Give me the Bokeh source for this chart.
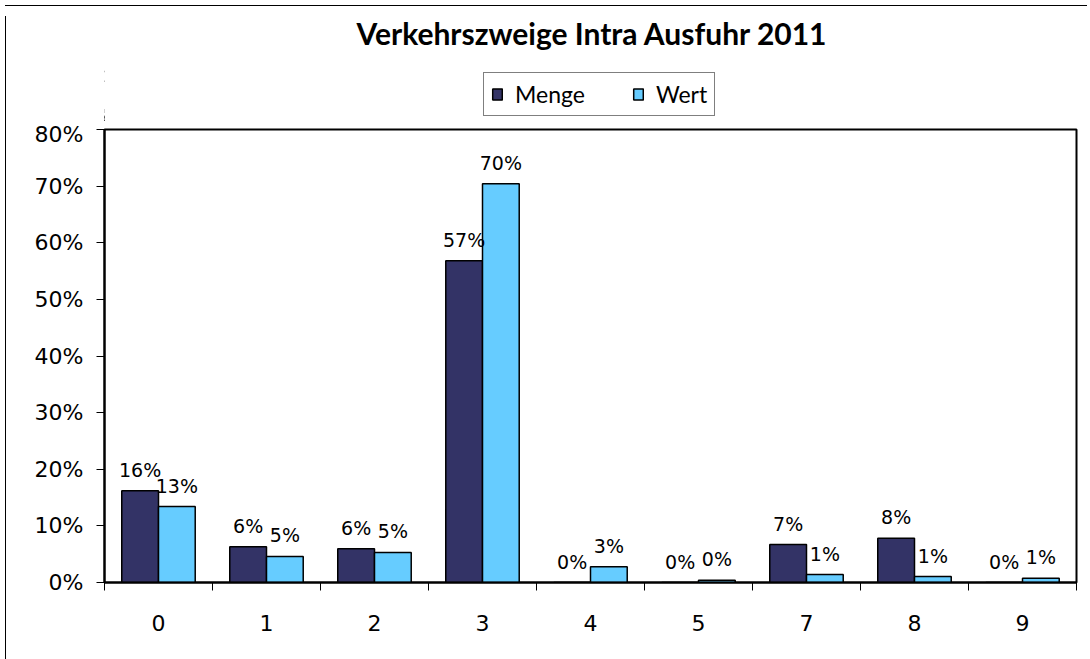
from bokeh.plotting import figure
from bokeh.models import (ColumnDataSource, FixedTicker, NumeralTickFormatter,
                          Legend, LegendItem, Range1d, Div)
from bokeh.layouts import column, row
from bokeh.embed import file_html
from bokeh.resources import INLINE

categories = ["0", "1", "2", "3", "4", "5", "7", "8", "9"]
menge = [16.2, 6.3, 5.95, 56.8, 0.0, 0.0, 6.7, 7.8, 0.0]
wert = [13.4, 4.6, 5.3, 70.4, 2.8, 0.4, 1.4, 1.05, 0.76]
y_ticks = [0, 10, 20, 30, 40, 50, 60, 70, 80]
series_names = ["Menge", "Wert"]
title_text = "Verkehrszweige Intra Ausfuhr 2011"

MENGE_COLOR = "#333366"
WERT_COLOR = "#66CCFF"

n = len(categories)
centers = [i + 0.5 for i in range(n)]
dodge = 0.17
bw = 0.34

src_m = ColumnDataSource(dict(
    x=[c - dodge for c in centers], top=[v / 100 for v in menge],
    lab=[f"{int(v + 0.5)}%" for v in menge]))
src_w = ColumnDataSource(dict(
    x=[c + dodge for c in centers], top=[v / 100 for v in wert],
    lab=[f"{int(v + 0.5)}%" for v in wert]))

# ---------- header: title + legend ----------
hdr = figure(width=1081, height=110, output_backend="svg", toolbar_location=None,
             x_range=Range1d(100, 101), y_range=Range1d(0, 1),
             x_axis_type=None, y_axis_type=None,
             min_border_left=93, min_border_right=16, min_border_top=39,
             min_border_bottom=0)
hdr.outline_line_color = None
hdr.background_fill_color = "white"
hdr.border_fill_color = "white"
hdr.title.text = title_text
hdr.title.align = "left"
hdr.title.text_font = "Lato"
hdr.title.text_font_style = "bold"
hdr.title.text_font_size = "30px"
hdr.title.text_color = "#000000"
hdr.title.offset = 252
hdr.title.standoff = 0

# legend swatch renderers: same series, zero height and outside the header's x range
lm = hdr.vbar(x="x", top="top", bottom="top", width=bw, source=src_m,
              fill_color=MENGE_COLOR, line_color="#000000", line_width=1.5)
lw = hdr.vbar(x="x", top="top", bottom="top", width=bw, source=src_w,
              fill_color=WERT_COLOR, line_color="#000000", line_width=1.5)
legend = Legend(items=[LegendItem(label=series_names[0], renderers=[lm]),
                       LegendItem(label=series_names[1], renderers=[lw])],
                orientation="horizontal", location=(379, 5),
                label_text_font="Lato", label_text_font_size="23px",
                label_text_color="#000000",
                glyph_width=12, glyph_height=14, label_standoff=12,
                spacing=47, padding=7, margin=0,
                border_line_color="#000000", border_line_width=1,
                background_fill_color="white", background_fill_alpha=1)
hdr.add_layout(legend, "center")

# ---------- main chart ----------
p = figure(width=1081, height=539, output_backend="svg", toolbar_location=None,
           x_range=Range1d(0, n), y_range=Range1d(0, 0.8),
           min_border_left=93, min_border_right=16, min_border_top=8,
           min_border_bottom=78)
p.outline_line_color = "#000000"
p.outline_line_width = 2
p.xgrid.grid_line_color = None
p.ygrid.grid_line_color = None
p.background_fill_color = "white"
p.border_fill_color = "white"

p.vbar(x="x", top="top", width=bw, bottom=0, source=src_m,
       fill_color=MENGE_COLOR, line_color="#000000", line_width=1.5)
p.vbar(x="x", top="top", width=bw, bottom=0, source=src_w,
       fill_color=WERT_COLOR, line_color="#000000", line_width=1.5)

for s in (src_m, src_w):
    p.text(x="x", y="top", text="lab", source=s, text_align="center",
           text_baseline="bottom", y_offset=-10, text_font_size="19px",
           text_font={"value": "DejaVu Sans"}, text_color="#000000")

xa = p.xaxis[0]
xa.ticker = FixedTicker(ticks=centers, minor_ticks=list(range(n + 1)))
xa.major_label_overrides = {c: lab for c, lab in zip(centers, categories)}
xa.major_tick_line_color = None
xa.major_tick_out = 0
xa.major_tick_in = 0
xa.minor_tick_line_color = "#000000"
xa.minor_tick_line_width = 1
xa.minor_tick_out = 8
xa.minor_tick_in = 0
xa.axis_line_width = 2
xa.axis_line_color = "#000000"
xa.major_label_standoff = 24
xa.major_label_text_font = "DejaVu Sans"
xa.major_label_text_font_size = "22px"
xa.major_label_text_color = "#000000"

ya = p.yaxis[0]
ya.ticker = FixedTicker(ticks=[t / 100 for t in y_ticks], minor_ticks=[])
ya.formatter = NumeralTickFormatter(format="0%")
ya.major_tick_out = 8
ya.major_tick_in = 0
ya.major_tick_line_color = "#000000"
ya.minor_tick_line_color = None
ya.axis_line_width = 2
ya.axis_line_color = "#000000"
ya.major_label_standoff = 13
ya.major_label_text_font = "DejaVu Sans"
ya.major_label_text_font_size = "22px"
ya.major_label_text_color = "#000000"

# outer chart border (top and left edges), as thin black strips
top_line = Div(width=1082, height=1, styles={"background-color": "#000000"})
left_line = Div(width=1, height=649, styles={"background-color": "#000000"})

layout = column(top_line, row(left_line, column(hdr, p, spacing=0), spacing=0),
                spacing=0)

open("out.html", "w").write(file_html(layout, INLINE))
